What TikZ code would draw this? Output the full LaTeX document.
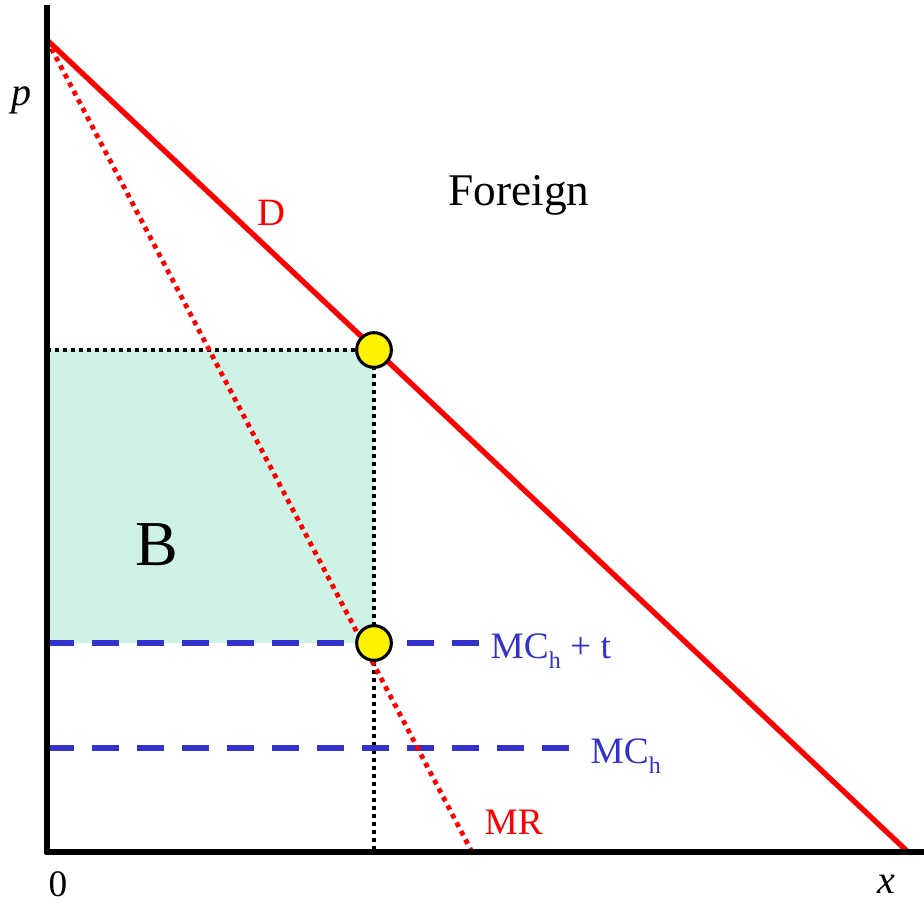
\documentclass[tikz,border=0pt]{standalone}
\usepackage{fontspec}
\setmainfont{Liberation Serif}
\usetikzlibrary{positioning}
\definecolor{mcblue}{RGB}{51,51,204}
\definecolor{shadegreen}{RGB}{206,243,230}

\newcommand{\subh}{\raisebox{-8pt}{\fontsize{18}{18}\selectfont h}}

\begin{document}
\begin{tikzpicture}[x=0.75pt,y=-0.75pt,
    axis/.style={line width=4.6pt},
    guide/.style={line width=2.6pt, dash pattern=on 3pt off 3pt},
    cost/.style={line width=4pt, mcblue, dash pattern=on 20.25pt off 13.5pt},
    eqpoint/.style={circle, draw=black, fill=yellow, line width=2.3pt, minimum size=26pt, inner sep=0pt}]
    \useasboundingbox (0,0) rectangle (924,908);

    % key points
    \coordinate (O) at (47,852);
    \coordinate (ytop) at (47,5);
    \coordinate (xend) at (924,852);
    \coordinate (Dtop) at (47,40);
    \coordinate (Dend) at (908,852);
    \coordinate (MRend) at (472,852);
    \coordinate (A) at (374,350);
    \coordinate (Bpt) at (374,643);
    \coordinate (pA) at (47,350);
    \coordinate (pB) at (47,643);
    \coordinate (pC) at (47,748);
    \coordinate (qA) at (374,852);
    \coordinate (tEnd) at (480,643);
    \coordinate (hEnd) at (570,748);

    % area B
    \fill[shadegreen] (pA) rectangle (Bpt);

    \draw[guide] (pA) -- (A);
    \draw[guide] (A) -- (qA);

    \draw[cost] (pB) -- (tEnd);
    \draw[cost] (pC) -- (hEnd);

    \draw[red, line width=3.6pt, dash pattern=on 3.6pt off 3.6pt] (Dtop) -- (MRend);
    \draw[red, line width=4pt] (Dtop) -- (Dend);

    \draw[axis] (ytop) -- ([yshift=-1.7pt]O);
    \draw[axis] ([xshift=-1.7pt]O) -- (xend);

    \node[eqpoint] (eqA) at (A) {};
    \node[eqpoint] (eqB) at (Bpt) {};

    % labels
    \node (plab) at (22,100) {\fontsize{30}{30}\selectfont\textit{p}};
    \node (xlab) at (886,884) {\fontsize{30}{30}\selectfont\textit{x}};
    \node (zero) at (58,884) {\fontsize{28}{28}\selectfont 0};
    \node[red] (Dlab) at (271,213) {\fontsize{29}{29}\selectfont D};
    \node[red, anchor=west] (MRlab) at (480,822) {\fontsize{28}{28}\selectfont MR};
    \node (foreign) at (519,195) {\fontsize{34}{34}\selectfont Foreign};
    \node (Blab) at (157,545) {\fontsize{48}{48}\selectfont B};
    \node[mcblue, anchor=base west] (mct) at (486,658) {\fontsize{28}{28}\selectfont MC\subh{} + t};
    \node[mcblue, anchor=base west] (mch) at (586,763) {\fontsize{28}{28}\selectfont MC\subh};
\end{tikzpicture}
\end{document}
